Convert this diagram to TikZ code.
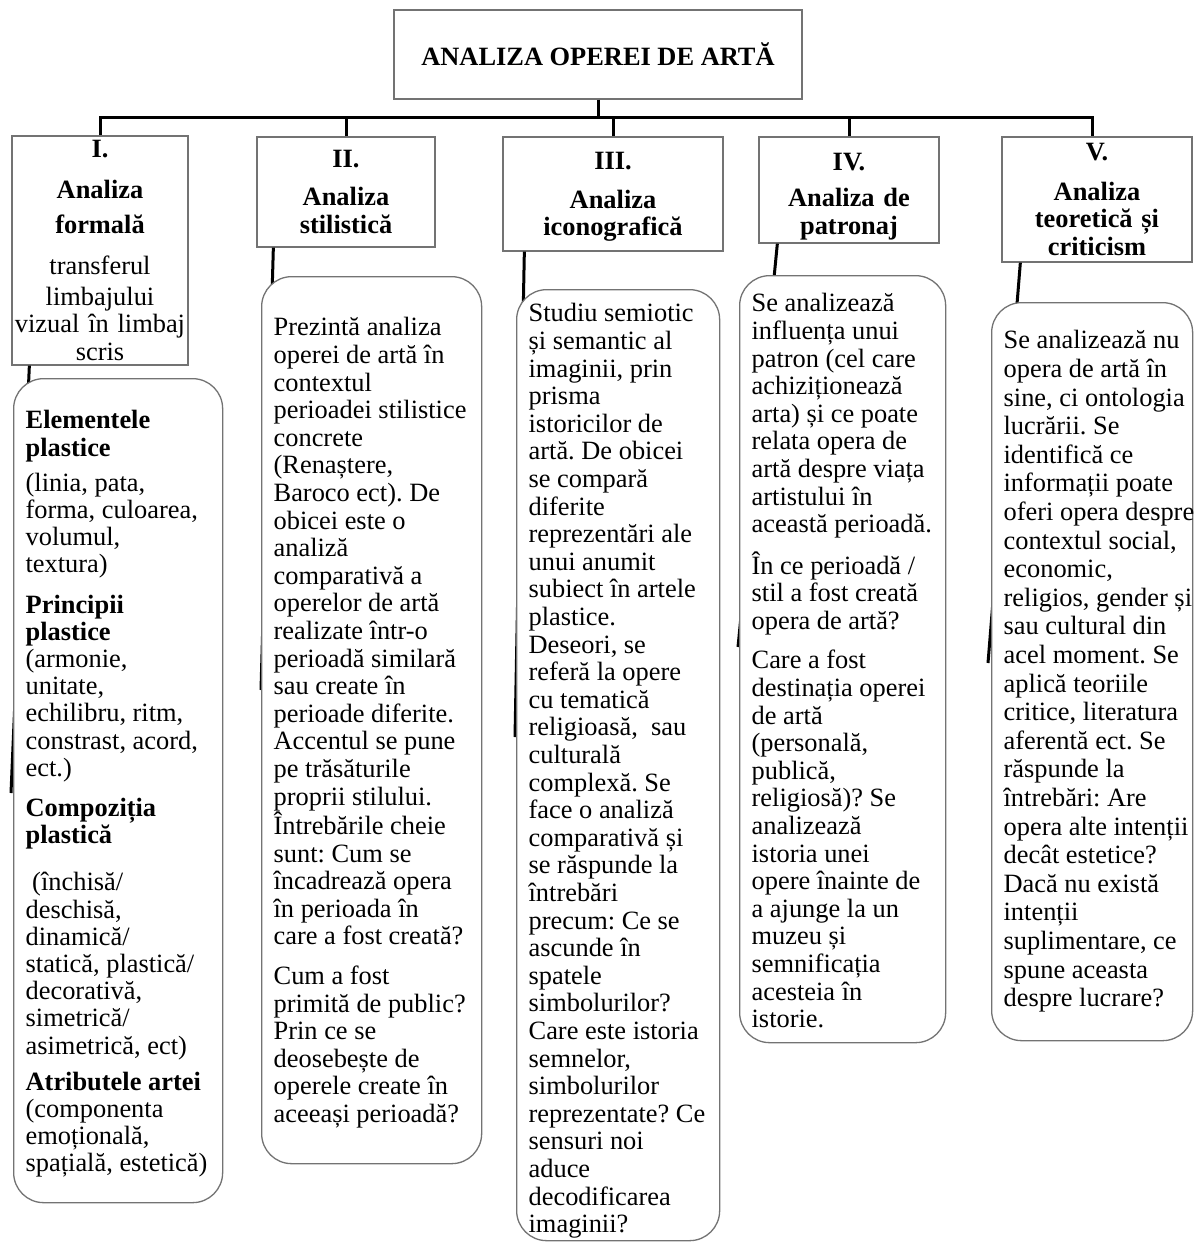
\documentclass[tikz,border=0pt]{standalone}
\usepackage{fontspec}
\setmainfont{Liberation Serif}
\newcommand{\artsize}{\fontsize{26.4}{27.6}\selectfont\frenchspacing}
\newcommand{\freeright}{\raggedright\rightskip=-40pt plus 1fil\relax}
\begin{document}
\begin{tikzpicture}[x=1pt, y=-1pt]
\tikzstyle{box}=[draw=black!55, line width=1.3pt, inner sep=0pt]
\tikzstyle{titlebox}=[box, font=\artsize\bfseries, minimum width=408pt, minimum height=89pt]
\tikzstyle{head}=[box, font=\artsize\bfseries, align=center]
\tikzstyle{info}=[box, fill=white, rounded corners=30pt, inner xsep=12pt, anchor=north west, font=\artsize]
\tikzstyle{link}=[line width=3pt]

\useasboundingbox (0,0) rectangle (1194,1243);

\coordinate (title) at (598, 54.5);
\coordinate (bar) at (598, 117);

\coordinate (head_1) at (100, 250.5);
\coordinate (head_2) at (346, 192);
\coordinate (head_3) at (613, 194);
\coordinate (head_4) at (849, 190);
\coordinate (head_5) at (1097, 199.5);

\coordinate (info_1) at (13, 378);
\coordinate (info_2) at (261, 276);
\coordinate (info_3) at (516, 289);
\coordinate (info_4) at (739, 275);
\coordinate (info_5) at (991, 302);

\coordinate (end_1) at (11, 793);
\coordinate (end_2) at (261, 690);
\coordinate (end_3) at (515, 737);
\coordinate (end_4) at (738, 647);
\coordinate (end_5) at (988, 663);


\node[titlebox] (title) at (title) {ANALIZA OPEREI DE ARTĂ};

\node[head, text width=176pt, minimum height=229pt] (head_1) at (head_1) {I.\\[13pt]Analiza\\[8pt]formală\\[13pt]{\mdseries transferul\\[3pt]limbajului\\vizual în limbaj\\scris}};
\node[head, text width=178pt, minimum height=110pt] (head_2) at (head_2) {II.\\[10pt]Analiza\\stilistică};
\node[head, text width=220pt, minimum height=114pt] (head_3) at (head_3) {\rule{0pt}{23pt}III.\\[11pt]Analiza\\iconografică};
\node[head, text width=180pt, minimum height=106pt] (head_4) at (head_4) {\rule{0pt}{30pt}IV.\\[9pt]Analiza de\\patronaj};
\node[head, text width=190pt, minimum height=125pt] (head_5) at (head_5) {V.\\[12pt]Analiza\\teoretică și\\criticism};

\draw[link] (title) -- (bar);
\draw[link] (head_1.north) -- (head_1.north |- bar) -- ([xshift=-5pt]head_5.north |- bar) -- ([xshift=-5pt]head_5.north);
\draw[link] (head_2.north) -- (head_2.north |- bar);
\draw[link] (head_3.north) -- (head_3.north |- bar);
\draw[link] (head_4.north) -- (head_4.north |- bar);

\draw[link] ([xshift=18pt]head_1.south west) -- (end_1);
\draw[link] ([xshift=17pt]head_2.south west) -- (end_2);
\draw[link] ([xshift=22pt]head_3.south west) -- (end_3);
\draw[link] ([xshift=19pt]head_4.south west) -- (end_4);
\draw[link] ([xshift=19pt]head_5.south west) -- (end_5);

\node[info] (info_1) at (info_1) {\parbox[t][824pt][t]{185pt}{\freeright\setlength{\baselineskip}{27.2pt}\vspace*{32pt}%
{\bfseries Elementele\\plastice}\\[8pt]
(linia, pata,\\forma, culoarea,\\volumul,\\textura)\\[13pt]
{\bfseries Principii\\plastice}\\
(armonie,\\unitate,\\echilibru, ritm,\\constrast, acord,\\ect.)\\[13pt]
{\bfseries Compoziția\\plastică}\\[20pt]
\ (închisă/\\deschisă,\\dinamică/\\statică, plastică/\\decorativă,\\simetrică/\\asimetrică, ect)\\[9pt]
{\bfseries Atributele artei}\\
(componenta\\emoțională,\\spațială, estetică)}};

\node[info] (info_2) at (info_2) {\parbox[t][887pt][t]{196pt}{\freeright\vspace*{41pt}%
Prezintă analiza\\operei de artă în\\contextul\\perioadei stilistice\\concrete\\(Renaștere,\\Baroco ect). De\\obicei este o\\analiză\\comparativă a\\operelor de artă\\realizate într-o\\perioadă similară\\sau create în\\perioade diferite.\\Accentul se pune\\pe trăsăturile\\proprii stilului.\\Întrebările cheie\\sunt: Cum se\\încadrează opera\\în perioada în\\care a fost creată?\\[12pt]
Cum a fost\\primită de public?\\Prin ce se\\deosebește de\\operele create în\\aceeași perioadă?}};

\node[info] (info_3) at (info_3) {\parbox[t][951pt][t]{179pt}{\freeright\vspace*{14pt}%
Studiu semiotic\\și semantic al\\imaginii, prin\\prisma\\istoricilor de\\artă. De obicei\\se compară\\diferite\\reprezentări ale\\unui anumit\\subiect în artele\\plastice.\\Deseori, se\\referă la opere\\cu tematică\\religioasă, \ sau\\culturală\\complexă. Se\\face o analiză\\comparativă și\\se răspunde la\\întrebări\\precum: Ce se\\ascunde în\\spatele\\simbolurilor?\\Care este istoria\\semnelor,\\simbolurilor\\reprezentate? Ce\\sensuri noi\\aduce\\decodificarea\\imaginii?}};

\node[info] (info_4) at (info_4) {\parbox[t][767pt][t]{182pt}{\freeright\vspace*{18pt}%
Se analizează\\influența unui\\patron (cel care\\achiziționează\\arta) și ce poate\\relata opera de\\artă despre viața\\artistului în\\această perioadă.\\[12pt]
În ce perioadă /\\stil a fost creată\\opera de artă?\\[12pt]
Care a fost\\destinația operei\\de artă\\(personală,\\publică,\\religiosă)? Se\\analizează\\istoria unei\\opere înainte de\\a ajunge la un\\muzeu și\\semnificația\\acesteia în\\istorie.}};

\node[info] (info_5) at (info_5) {\parbox[t][738pt][t]{177pt}{\freeright\setlength{\baselineskip}{28.6pt}\vspace*{28pt}%
Se analizează nu\\opera de artă în\\sine, ci ontologia\\lucrării. Se\\identifică ce\\informații poate\\oferi opera despre\\contextul social,\\economic,\\religios, gender și\\sau cultural din\\acel moment. Se\\aplică teoriile\\critice, literatura\\aferentă ect. Se\\răspunde la\\întrebări: Are\\opera alte intenții\\decât estetice?\\Dacă nu există\\intenții\\suplimentare, ce\\spune aceasta\\despre lucrare?}};

\end{tikzpicture}
\end{document}
